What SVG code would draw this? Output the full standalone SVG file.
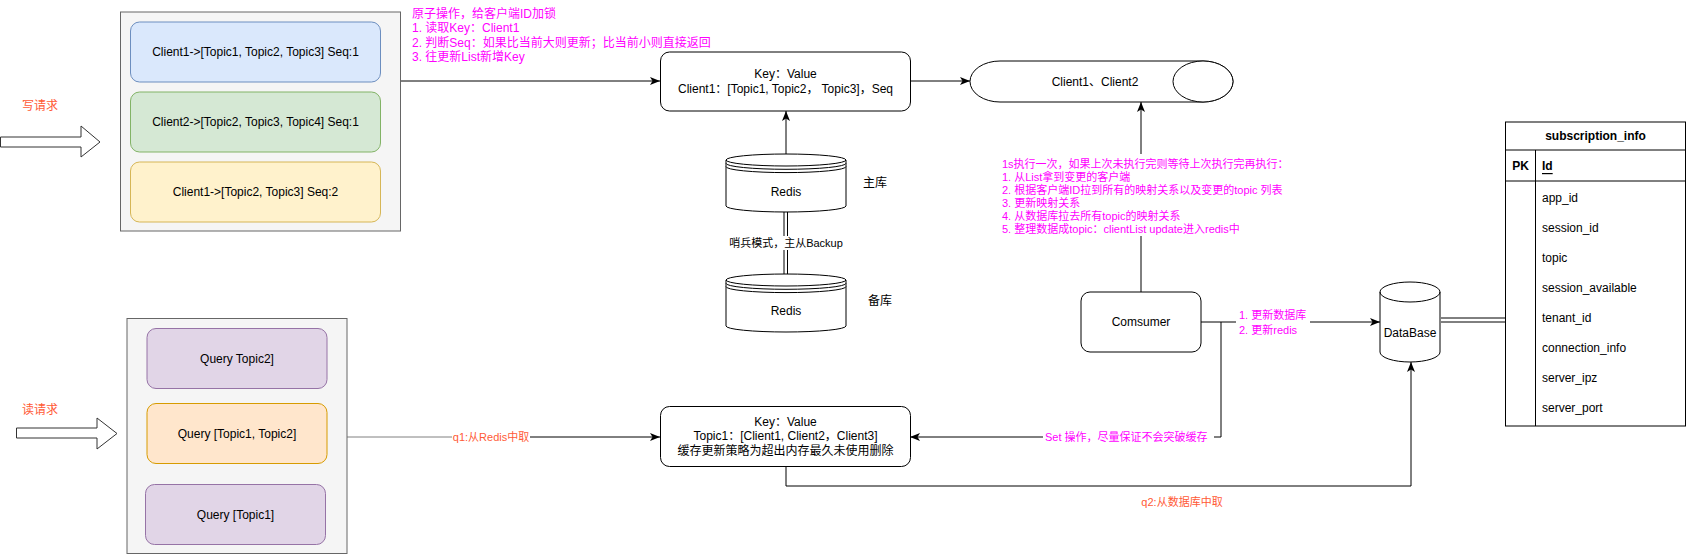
<svg xmlns="http://www.w3.org/2000/svg" width="1686" height="555" viewBox="0 0 1686 555">
<style>
text{font-family:"Liberation Sans","Noto Sans CJK SC",sans-serif;font-size:12px;fill:#000}
.c{text-anchor:middle;dominant-baseline:central}
.l{dominant-baseline:central}
.s11{font-size:11px}
.mag{fill:#FF00FF}
.org{fill:#FF5A36}
.edge{fill:none;stroke:#000;stroke-width:1}
.cont{fill:#f5f5f5;stroke:#666}
.blue{fill:#dae8fc;stroke:#6c8ebf}
.green{fill:#d5e8d4;stroke:#82b366}
.yellow{fill:#fff2cc;stroke:#d6b656}
.purple{fill:#e1d5e7;stroke:#9673a6}
.orange{fill:#ffe6cc;stroke:#d79b00}
.plain{fill:#fff;stroke:#000}
.bold{font-weight:bold}
</style>
<defs>
<marker id="arr" markerUnits="userSpaceOnUse" markerWidth="10" markerHeight="8" refX="10" refY="4" orient="auto">
<path d="M0,0 L10,4 L0,8 L2.5,4 Z" fill="#000"/>
</marker>
</defs>

<g id="connectors">
<path class="edge" d="M400,81 H660" marker-end="url(#arr)"/>
<path class="edge" d="M910,81 H970" marker-end="url(#arr)"/>
<path class="edge" d="M786,154 V111" marker-end="url(#arr)"/>
<path class="edge" d="M1141,292 V102" marker-end="url(#arr)"/>
<path class="edge" d="M1201,322 H1380" marker-end="url(#arr)"/>
<path class="edge" d="M1221,322 V437 H910" marker-end="url(#arr)"/>
<path d="M347,437 H460" fill="none" stroke="#808080"/>
<path class="edge" d="M460,437 H660" marker-end="url(#arr)"/>
<path class="edge" d="M786,466 V486 H1411 V362" marker-end="url(#arr)"/>
<path class="edge" d="M784,212 V274 M787.5,212 V274"/>
<path class="edge" d="M1441,318 H1505 M1441,322 H1505"/>
<!-- labels -->
<rect x="998" y="154" width="288" height="82" fill="#fff"/>
<text class="s11 mag l" x="1002" y="163.5">1s执行一次，如果上次未执行完则等待上次执行完再执行：</text>
<text class="s11 mag l" x="1002" y="176.5">1. 从List拿到变更的客户端</text>
<text class="s11 mag l" x="1002" y="189.5">2. 根据客户端ID拉到所有的映射关系以及变更的topic 列表</text>
<text class="s11 mag l" x="1002" y="202.5">3. 更新映射关系</text>
<text class="s11 mag l" x="1002" y="215.5">4. 从数据库拉去所有topic的映射关系</text>
<text class="s11 mag l" x="1002" y="228.5">5. 整理数据成topic：clientList  update进入redis中</text>
<rect x="1236" y="306" width="74" height="32" fill="#fff"/>
<text class="s11 mag l" x="1239" y="314.5">1. 更新数据库</text>
<text class="s11 mag l" x="1239" y="330">2. 更新redis</text>
<rect x="1043" y="430" width="171" height="14" fill="#fff"/>
<text class="s11 mag l" x="1045" y="437" text-anchor="start">Set 操作，尽量保证不会突破缓存</text>
<rect x="452" y="430" width="78" height="14" fill="#fff"/>
<text class="s11 org c" x="491" y="437">q1:从Redis中取</text>
<rect x="729" y="236" width="114" height="14" fill="#fff"/>
<text class="s11 c" x="786" y="243">哨兵模式，主从Backup</text>
<text class="s11 org c" x="1182" y="502">q2:从数据库中取</text>
</g>

<g id="write-arrow">
<polygon points="0.5,137 81,137 81,126 100,142 81,157 81,147 0.5,147" fill="#fff" stroke="#333"/>
<text class="org c" x="40" y="106">写请求</text>
</g>

<g id="write-container">
<rect class="cont" x="120.5" y="12" width="280" height="219"/>
<rect class="blue" x="130.5" y="22" width="250" height="60" rx="9"/>
<text class="c" x="255.5" y="52">Client1-&gt;[Topic1, Topic2, Topic3] Seq:1</text>
<rect class="green" x="130.5" y="92" width="250" height="60" rx="9"/>
<text class="c" x="255.5" y="122">Client2-&gt;[Topic2, Topic3, Topic4] Seq:1</text>
<rect class="yellow" x="130.5" y="162" width="250" height="60" rx="9"/>
<text class="c" x="255.5" y="192">Client1-&gt;[Topic2, Topic3] Seq:2</text>
</g>

<g id="atomic-note">
<text class="mag l" x="412" y="14">原子操作，给客户端ID加锁</text>
<text class="mag l" x="412" y="28">1. 读取Key：Client1</text>
<text class="mag l" x="412" y="42.5">2. 判断Seq：如果比当前大则更新；比当前小则直接返回</text>
<text class="mag l" x="412" y="57">3. 往更新List新增Key</text>
</g>

<g id="key-value-1">
<rect class="plain" x="660.5" y="52" width="250" height="59" rx="9"/>
<text class="c" x="785.5" y="73.5">Key：Value</text>
<text class="c" x="785.5" y="88.5">Client1：[Topic1, Topic2， Topic3]，Seq</text>
</g>

<g id="queue">
<path class="plain" d="M1000,61 H1203 A30,20.5 0 0 1 1203,102 H1000 A30,20.5 0 0 1 1000,61 Z"/>
<ellipse class="plain" cx="1203" cy="81.5" rx="30" ry="20.5"/>
<text class="c" x="1095" y="82">Client1、Client2</text>
</g>

<g id="redis-master">
<path class="plain" d="M726,160 A60,6 0 0 1 846,160 V206 A60,6 0 0 1 726,206 Z"/>
<path class="edge" d="M726,160 A60,6 0 0 0 846,160 M726,163.3 A60,6 0 0 0 846,163.3 M726,166.6 A60,6 0 0 0 846,166.6"/>
<text class="c" x="786" y="192">Redis</text>
<text class="c" x="875" y="183">主库</text>
</g>

<g id="redis-backup">
<path class="plain" d="M726,280 A60,6 0 0 1 846,280 V326 A60,6 0 0 1 726,326 Z"/>
<path class="edge" d="M726,280 A60,6 0 0 0 846,280 M726,283.3 A60,6 0 0 0 846,283.3 M726,286.6 A60,6 0 0 0 846,286.6"/>
<text class="c" x="786" y="311">Redis</text>
<text class="c" x="880" y="301">备库</text>
</g>

<g id="consumer">
<rect class="plain" x="1081" y="292" width="120" height="60" rx="9"/>
<text class="c" x="1141" y="322">Comsumer</text>
</g>

<g id="database">
<path class="plain" d="M1380,292 A30,10 0 0 1 1440,292 V352 A30,10 0 0 1 1380,352 Z"/>
<path class="edge" d="M1380,292 A30,10 0 0 0 1440,292"/>
<text class="c" x="1410" y="333">DataBase</text>
</g>

<g id="subscription-info">
<rect x="1505.5" y="122" width="180" height="304" fill="#fff" stroke="#000"/>
<path class="edge" d="M1505.5,150 H1685.5 M1505.5,181 H1685.5 M1535.5,150 V426"/>
<text class="c bold" x="1595.5" y="136">subscription_info</text>
<text class="c bold" x="1520.5" y="166">PK</text>
<text class="l bold" x="1542" y="166" text-decoration="underline">Id</text>
<text class="l" x="1542" y="198">app_id</text>
<text class="l" x="1542" y="228">session_id</text>
<text class="l" x="1542" y="258">topic</text>
<text class="l" x="1542" y="288">session_available</text>
<text class="l" x="1542" y="318">tenant_id</text>
<text class="l" x="1542" y="348">connection_info</text>
<text class="l" x="1542" y="378">server_ipz</text>
<text class="l" x="1542" y="408">server_port</text>
</g>

<g id="read-arrow">
<polygon points="16.5,428 97,428 97,418 117,433.5 97,449 97,438 16.5,438" fill="#fff" stroke="#333"/>
<text class="org c" x="40" y="410">读请求</text>
</g>

<g id="read-container">
<rect class="cont" x="127" y="318.5" width="220" height="235"/>
<rect class="purple" x="147" y="328.5" width="180" height="60" rx="9"/>
<text class="c" x="237" y="358.5">Query Topic2]</text>
<rect class="orange" x="147" y="403.5" width="180" height="60" rx="9"/>
<text class="c" x="237" y="433.5">Query [Topic1, Topic2]</text>
<rect class="purple" x="145.5" y="484.5" width="180" height="60" rx="9"/>
<text class="c" x="235.5" y="514.5">Query [Topic1]</text>
</g>

<g id="key-value-2">
<rect class="plain" x="660.5" y="406.5" width="250" height="60" rx="9"/>
<text class="c" x="785.5" y="421.5">Key：Value</text>
<text class="c" x="785.5" y="436">Topic1：[Client1, Client2，Client3]</text>
<text class="c" x="785.5" y="450.5">缓存更新策略为超出内存最久未使用删除</text>
</g>
</svg>
